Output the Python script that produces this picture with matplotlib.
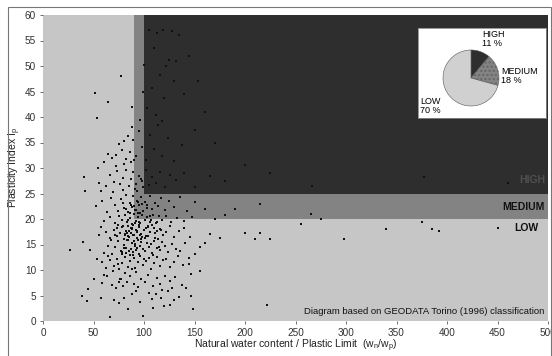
import matplotlib
matplotlib.use("Agg")
import matplotlib.pyplot as plt
from matplotlib.patches import Rectangle

plt.rcParams['font.family'] = ['Liberation Sans', 'DejaVu Sans']

# samples: natural water content / plastic limit (x) and plasticity index (y)
wn_wp = [66, 99, 96, 75, 80, 70, 88, 92, 105, 112, 118, 124, 128, 39, 44, 57, 84, 147, 149, 108,
         45, 50, 58, 63, 68, 72, 76, 79, 83, 86, 90, 94, 97, 101, 104, 109, 113, 116, 121, 126, 131, 138, 147, 60, 81, 92,
         58, 62, 66, 70, 73, 75, 78, 81, 84, 86, 89, 91, 94, 96, 99, 102, 105, 107, 110, 113, 116, 119, 122, 126, 130, 134, 139, 145, 53, 88, 100, 64,
         47, 40, 27, 60, 64, 68, 71, 74, 77, 80, 82, 84, 87, 89, 91, 93, 95, 97, 99, 101, 103, 105, 108, 110, 113, 116, 118, 121, 124, 128, 132, 136, 141, 150, 155, 160, 67, 86, 94,
         55, 62, 66, 70, 73, 76, 78, 80, 82, 84, 85, 87, 88, 90, 92, 93, 95, 97, 98, 100, 102, 104, 106, 108, 111, 113, 116, 119, 122, 126, 130, 135, 140, 146, 165, 175, 200, 210, 215, 225, 298, 57, 74, 96,
         60, 66, 71, 75, 78, 81, 83, 86, 88, 90, 92, 94, 96, 98, 101, 103, 106, 109, 112, 115, 118, 122, 127, 133, 140, 148, 170, 180, 255, 275, 375, 392, 450, 340, 385,
         52, 58, 63, 67, 71, 74, 77, 80, 82, 84, 86, 88, 89, 91, 93, 95, 97, 99, 101, 103, 106, 108, 111, 114, 117, 121, 125, 130, 136, 143, 150, 160, 190, 215, 265, 42, 57, 69, 79, 93,
         41, 55, 54, 62, 66, 70, 73, 76, 79, 82, 85, 87, 89, 92, 95, 98, 102, 105, 108, 112, 116, 121, 126, 132, 140, 150, 165, 180, 225, 266, 377, 460, 72, 80,
         60, 64, 68, 72, 75, 78, 80, 82, 84, 86, 88, 89, 92, 95, 98, 102, 106, 110, 114, 118, 124, 130, 138, 150, 170, 200, 90,
         53, 51, 64, 77, 88, 96, 99, 103, 108, 112, 116, 120, 125, 130, 135, 140, 128, 110, 100, 145, 160, 118, 105, 153, 113, 119, 122, 132,
         85, 87, 89, 91, 93, 95, 83, 81, 79, 86, 90, 94, 98, 100, 102, 104, 96, 92, 88, 84, 82, 78, 76, 107, 110, 114, 99, 97, 91, 87,
         222, 120, 135, 142, 155, 130, 145, 126, 117, 109,
         83, 85, 88, 90, 93, 95, 97, 86, 91, 89, 84, 92, 87, 94, 99, 81, 96, 90, 85, 88,
         101, 104, 107, 111, 115, 109, 113, 106, 103, 117, 78, 74, 71, 69, 77, 73, 80, 82, 75, 79]
ip = [0.8, 1, 3.7, 3.5, 4.5, 4.2, 5.3, 5.8, 5.5, 5.2, 6, 5.8, 6.5, 5, 4, 4.5, 2.4, 5, 2.4, 4.3,
      6.3, 8.3, 7.4, 8.8, 7, 6.4, 8.2, 6.8, 7.6, 8.9, 7.2, 6.6, 8.3, 7.7, 9, 6.9, 8.4, 7.3, 8.8, 7.9, 8.6, 7.1, 9.3, 9.1, 9.4, 9.6,
      11.5, 10.3, 11.9, 10.8, 12.2, 10.1, 11.4, 12.5, 10.6, 11.8, 12.9, 10.4, 11.6, 12.7, 10.9, 11.7, 12.4, 10.2, 11.3, 12.6, 10.7, 11.9, 12.2, 10.5, 11.6, 12.8, 10.9, 12.3, 12.1, 10.2, 12.2, 12.7,
      14, 15.4, 14, 13.4, 14.8, 13.1, 14.5, 15.6, 13.8, 14.9, 13.3, 15.8, 14.2, 13.6, 15.1, 14.4, 13.2, 15.5, 14.1, 13.7, 15.2, 14.6, 13.4, 15.7, 14.3, 13.9, 15.4, 14.7, 13.5, 15.1, 14.2, 13.8, 15.3, 13.2, 14.6, 15.3, 15.9, 13, 15.9,
      16.8, 17.5, 16.3, 17.9, 16.6, 17.2, 18.4, 16.1, 17.7, 18.6, 16.5, 17.3, 18.2, 16.8, 17.9, 16.2, 18.5, 17.1, 16.4, 17.8, 18.3, 16.7, 17.5, 18.8, 16.3, 17.6, 18.1, 16.9, 17.4, 18.6, 16.5, 17.7, 18.2, 16.4, 17, 16.2, 17.2, 16.1, 17.3, 16, 16, 18.5, 18.9, 16.9,
      19.6, 20.3, 19.2, 20.6, 19.9, 20.8, 19.4, 20.2, 19.1, 20.9, 19.7, 20.4, 19.3, 20.7, 19.8, 20.3, 19.5, 20.8, 19.2, 20.5, 19.9, 20.6, 19.4, 20.2, 19.6, 20.4, 20, 20.8, 19, 20, 19.5, 17.7, 18.3, 18, 18,
      22.5, 23.6, 21.4, 24.2, 22.8, 21.6, 23.9, 22.1, 24.7, 21.3, 23.2, 22.4, 24.5, 21.8, 23.6, 22.7, 24.3, 21.5, 23.4, 22.2, 24.6, 21.9, 23.1, 22.6, 24.1, 21.7, 23.5, 22.3, 24.4, 21.6, 23.3, 22, 22, 23, 21, 25.4, 25.5, 25.2, 25.6, 25.4,
      28.3, 27, 30, 26.5, 28.6, 27.3, 29.4, 26.8, 28.1, 29.7, 26.4, 27.9, 29.2, 26.9, 28.5, 27.4, 29.6, 26.6, 28.2, 27.1, 29.3, 26.3, 28.7, 27.6, 29.1, 26.2, 28.4, 27.5, 29, 26.4, 28.3, 27, 30.4, 30.8,
      31.2, 32.8, 31.9, 32.6, 34.7, 33.5, 35.2, 31.8, 36.2, 33.1, 38, 35.4, 32.4, 37.2, 34.1, 31.6, 36.5, 33.7, 38.4, 32.3, 35.8, 31.3, 34.6, 37.5, 35, 30.5, 31.5,
      39.8, 44.7, 43, 48, 42, 39.5, 45, 41.7, 45.6, 40.4, 48.3, 43.8, 51.2, 47.1, 56, 44.5, 56.8, 53.5, 50.2, 52, 41, 39.2, 57, 47, 56.5, 57, 50, 51,
      17.6, 18.3, 16.8, 19.2, 17.4, 18.9, 15.8, 17.1, 18.7, 21.2, 22.6, 21.1, 22.9, 17.9, 16.6, 18.4, 14.8, 13.9, 15.2, 16.7, 14.3, 13.6, 17.3, 19.8, 18.2, 16.1, 26.2, 27.8, 25.9, 31.2,
      3.1, 2.9, 4.8, 6.4, 9.8, 4.1, 11.2, 3.2, 4.6, 2.6,
      17.2, 16.4, 18.1, 15.6, 17.6, 19.5, 16.1, 20.1, 14.7, 18.8, 19.9, 21.7, 22.8, 23.3, 14.2, 16.9, 21.2, 12.4, 13.7, 15.2,
      16.3, 18.6, 15.1, 17.2, 14.5, 12.9, 19.4, 20.6, 22.7, 17.9, 13.2, 11.1, 16.9, 9.9, 8.3, 18.3, 14.4, 21.9, 7.6, 23.2]

# classification zones
low_color = '#c6c6c6'
med_color = '#838383'
high_color = '#2e2e2e'

# pie of class percentages
classes = ['HIGH', 'MEDIUM', 'LOW']
shares = [11, 18, 70]

fig = plt.figure(figsize=(5.52, 3.56), dpi=100)
ax = fig.add_axes([43 / 552, 1 - 321 / 356, 505 / 552, 306 / 356])
ax.set_xlim(0, 500)
ax.set_ylim(0, 60)
ax.set_facecolor(low_color)
ax.add_patch(Rectangle((90, 20), 500, 60, color=med_color, zorder=0.5, lw=0))
ax.add_patch(Rectangle((100, 25), 500, 60, color=high_color, zorder=0.6, lw=0))

ax.scatter(wn_wp, ip, s=3.5, marker='s', color='#111111', lw=0, zorder=3)

ax.text(497, 27.6, 'HIGH', ha='right', va='center', fontsize=7.5, fontweight='bold', color='#505050')
ax.text(497, 22.3, 'MEDIUM', ha='right', va='center', fontsize=7.5, fontweight='bold', color='#111111')
ax.text(490, 18.2, 'LOW', ha='right', va='center', fontsize=7.5, fontweight='bold', color='#111111')
ax.text(496, 1.8, 'Diagram based on GEODATA Torino (1996) classification', ha='right', va='center',
        fontsize=6.8, color='#111111', zorder=4)

ax.set_xticks(range(0, 501, 50))
ax.set_yticks(range(0, 61, 5))
ax.tick_params(labelsize=7.2, colors='#333333', length=2, width=0.5, pad=3)
for s in ax.spines.values():
    s.set_visible(False)
ax.set_xlabel('Natural water content / Plastic Limit  (w$_\\mathregular{n}$/w$_\\mathregular{p}$)',
              fontsize=7.5, color='#222222', labelpad=0)
ax.set_ylabel('Plasticity Index I$_\\mathregular{p}$', fontsize=7.5, color='#222222', labelpad=1)

# inset with class shares
box = fig.add_axes([418 / 552, 1 - 118 / 356, 128 / 552, 90 / 356])
box.set_xticks([])
box.set_yticks([])
box.set_facecolor('white')
for s in box.spines.values():
    s.set_color('#888888')
    s.set_linewidth(0.6)
pie_ax = fig.add_axes([(471 - 35) / 552, 1 - (78 + 35) / 356, 70 / 552, 70 / 356])
wedges, _ = pie_ax.pie(shares, colors=[high_color, med_color, '#d0d0d0'], startangle=90,
                       counterclock=False, wedgeprops=dict(edgecolor='#555555', linewidth=0.4))
wedges[1].set_hatch('....')
wedges[1].set_edgecolor('#666666')
fig.text(482 / 552, 1 - 39 / 356, 'HIGH\n11 %', fontsize=6.5, ha='left', va='center', linespacing=0.95)
fig.text(501 / 552, 1 - 76 / 356, 'MEDIUM\n18 %', fontsize=6.5, ha='left', va='center', linespacing=0.95)
fig.text(420 / 552, 1 - 106 / 356, 'LOW\n70 %', fontsize=6.5, ha='left', va='center', linespacing=0.95)

fig.patches.append(Rectangle((8 / 552, -0.01), 543 / 552, 1 - 7 / 356 + 0.01, transform=fig.transFigure,
                             fill=False, edgecolor='#777777', linewidth=0.8))

fig.savefig('out.png', dpi=100)
